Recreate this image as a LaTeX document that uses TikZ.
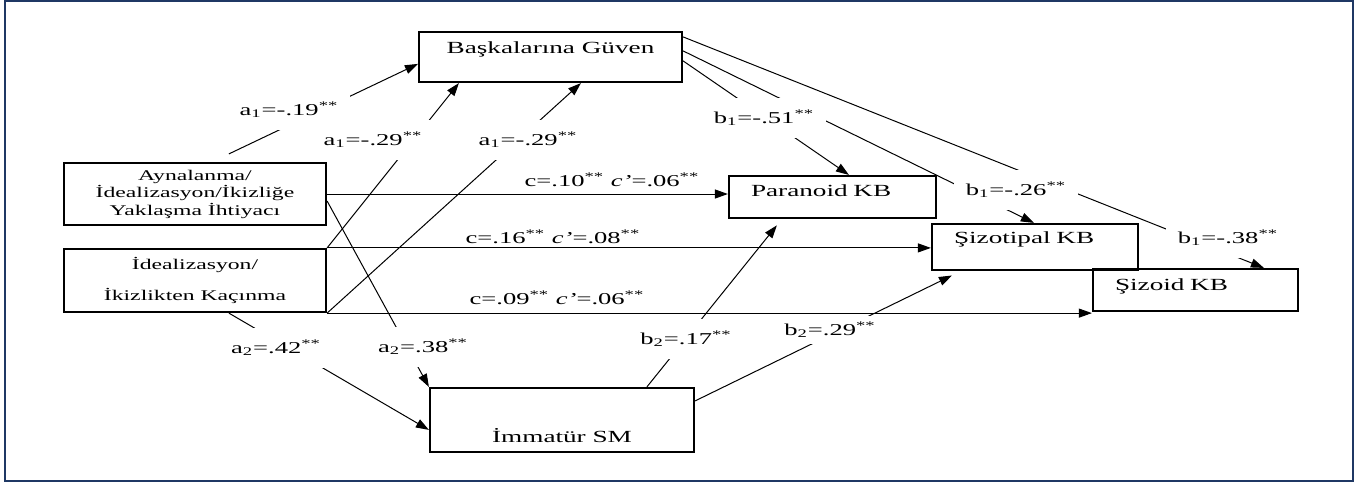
\documentclass[tikz,border=0pt]{standalone}
\usepackage{fontspec}
\setmainfont[FakeStretch=1.6]{Liberation Serif}
\usepackage{tikz}
\usetikzlibrary{arrows.meta,calc}
\definecolor{framenavy}{RGB}{31,56,100}
\tikzstyle{var} = [rectangle, draw=black, line width=1.1pt, inner sep=0pt, align=center, font=\fontsize{8.5}{10}\selectfont]
\tikzstyle{kb} = [var, align=left, inner xsep=11pt]
\tikzstyle{need} = [rectangle, draw=black, line width=1.1pt, inner sep=0pt, align=center, minimum width=131pt, font=\fontsize{7.4}{8.75}\selectfont]
\tikzstyle{link} = [line width=0.5pt, -{Triangle[length=6.5pt,width=4.5pt]}]
\tikzstyle{coef} = [fill=white, inner xsep=6pt, inner ysep=6pt, font=\fontsize{8.3}{10}\selectfont]
\tikzstyle{effect} = [inner sep=1pt, font=\fontsize{8.3}{10}\selectfont]

\begin{document}
\begin{tikzpicture}[x=0.5pt, y=-0.5pt]
\useasboundingbox (0,0) rectangle (1370,484);
\draw[framenavy, line width=0.75pt] (5,1) rectangle (1353,481);

\node (guven) [var, minimum width=131.5pt, text height=10.75pt, text depth=14.25pt] at (550.5,57) {Başkalarına Güven};
\node (ayna) [need, minimum height=31pt] at (195,194) {Aynalanma/\\İdealizasyon/İkizliğe\\Yaklaşma İhtiyacı};
\node (ideal) [need, minimum height=31.5pt] at (195,280.5) {İdealizasyon/\\[6.75pt]İkizlikten Kaçınma};
\node (paranoid) [kb, text width=81.5pt, text height=10.25pt, text depth=10.75pt] at (832.5,197) {Paranoid KB};
\node (sizotipal) [kb, text width=81pt, text height=9.75pt, text depth=13.25pt] at (1035,247) {Şizotipal KB};
\node (sizoid) [kb, text width=80.5pt, text height=10.75pt, text depth=10.25pt] at (1195.5,290) {Şizoid KB};
\node (immatur) [var, minimum width=132pt, text height=27.25pt, text depth=4.75pt] at (562,420) {İmmatür SM};

% a paths
\draw[link] ($(ayna.north west)+(166,-8)$) -- ($(guven.north west)+(0,33)$);
\draw[link] (ideal.north east) -- ($(guven.south west)+(41,0)$);
\draw[link] (ideal.south east) -- ($(guven.south west)+(163,0)$);
\draw[link] ($(ayna.east)+(0,7)$) -- (immatur.north west);
\draw[link] ($(ideal.south west)+(166,0)$) -- ($(immatur.north west)+(0,43)$);

% c paths
\draw[link] (ayna.east) -- (ayna.east -| paranoid.west);
\draw[link] (ideal.north east) -- (ideal.north east -| sizotipal.west);
\draw[link] (ideal.south east) -- (ideal.south east -| sizoid.west);

% b paths
\draw[link] ($(guven.north east)+(0,30)$) -- ($(paranoid.north west)+(121,0)$);
\draw[link] ($(guven.north east)+(0,20)$) -- ($(sizotipal.north west)+(103,0)$);
\draw[link] ($(guven.north east)+(0,6)$) -- ($(sizoid.north west)+(172,0)$);
\draw[link, shorten >=4pt] ($(immatur.north west)+(218,0)$) -- ($(paranoid.south west)+(54,0)$);
\draw[link, shorten >=5pt] ($(immatur.north east)+(0,14)$) -- ($(sizotipal.south west)+(30,0)$);

\node (a1ayna) [coef] at (289,110) {a\textsubscript{1}=-.19\textsuperscript{**}};
\node (a1ideal) [coef] at (373,140) {a\textsubscript{1}=-.29\textsuperscript{**}};
\node (a1kac) [coef] at (528,140) {a\textsubscript{1}=-.29\textsuperscript{**}};
\node (a2kac) [coef] at (276,348) {a\textsubscript{2}=.42\textsuperscript{**}};
\node (a2ayna) [coef] at (423,347) {a\textsubscript{2}=.38\textsuperscript{**}};
\node (cpar) [effect] at (612,180) {c=.10\textsuperscript{**} \textit{c'}=.06\textsuperscript{**}};
\node (csizt) [effect] at (553,237) {c=.16\textsuperscript{**} \textit{c'}=.08\textsuperscript{**}};
\node (csizd) [effect] at (557,298) {c=.09\textsuperscript{**} \textit{c'}=.06\textsuperscript{**}};
\node (b1par) [coef] at (764,118) {b\textsubscript{1}=-.51\textsuperscript{**}};
\node (b1sizt) [coef] at (1016,190) {b\textsubscript{1}=-.26\textsuperscript{**}};
\node (b1sizd) [coef] at (1228,238) {b\textsubscript{1}=-.38\textsuperscript{**}};
\node (b2par) [coef] at (686,339) {b\textsubscript{2}=.17\textsuperscript{**}};
\node (b2sizt) [coef, inner ysep=3pt] at (830,330) {b\textsubscript{2}=.29\textsuperscript{**}};
\end{tikzpicture}
\end{document}
